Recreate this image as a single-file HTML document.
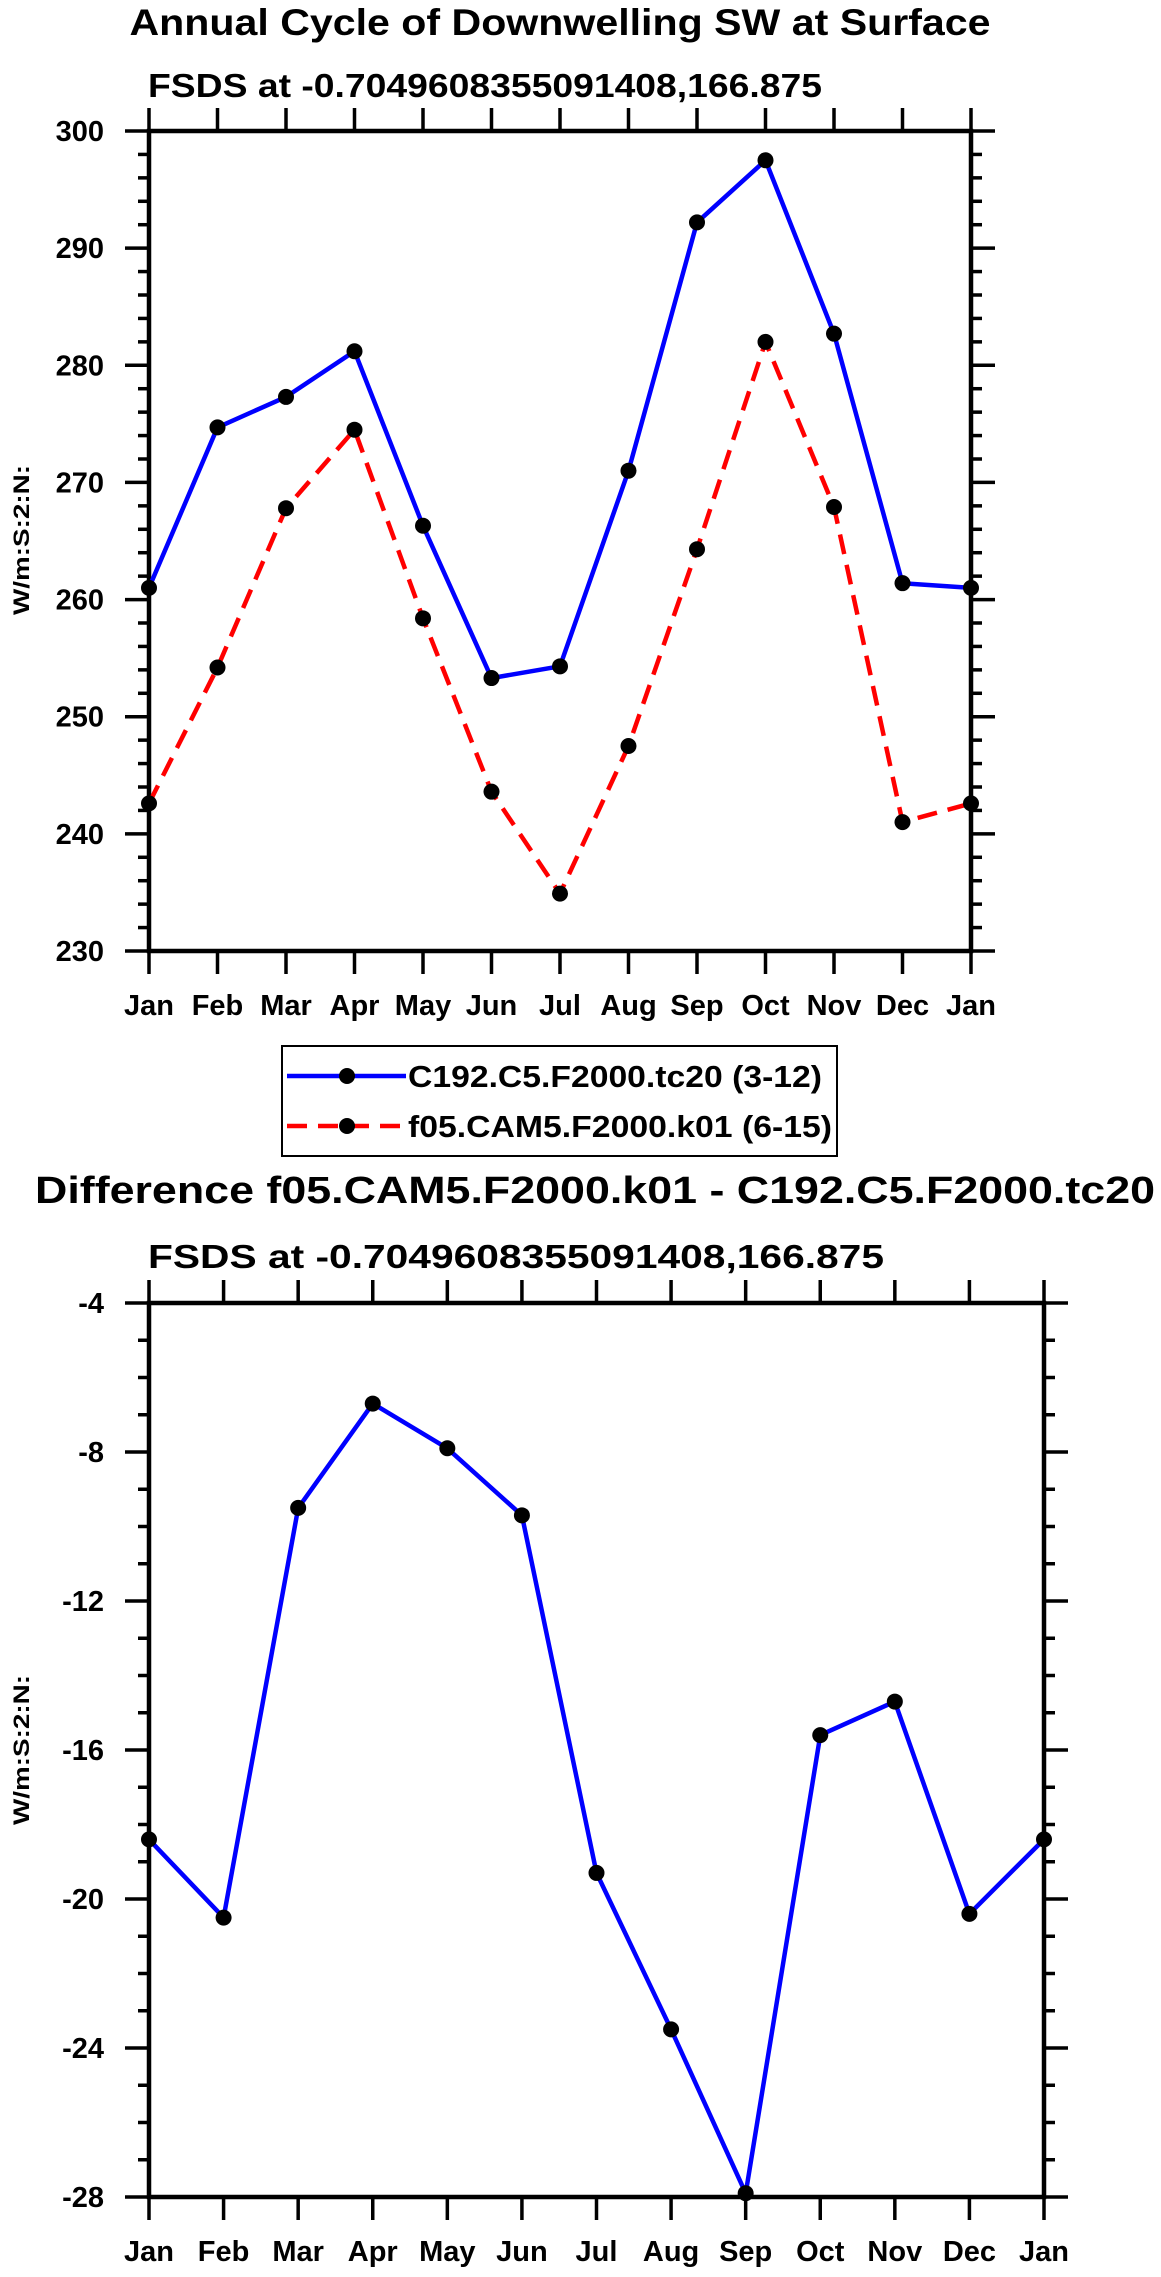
<!DOCTYPE html>
<html><head><meta charset="utf-8"><style>
html,body{margin:0;padding:0;background:#fff}
svg{display:block}
text{font-family:"Liberation Sans",Arial,sans-serif;font-weight:bold;fill:#000}
</style></head><body>
<svg id="chart" width="1161" height="2277" viewBox="0 0 1161 2277" xmlns="http://www.w3.org/2000/svg">
<text x="560" y="35" text-anchor="middle" font-size="37" textLength="861" lengthAdjust="spacingAndGlyphs">Annual Cycle of Downwelling SW at Surface</text>
<text x="148" y="97" font-size="33" textLength="674" lengthAdjust="spacingAndGlyphs">FSDS at -0.7049608355091408,166.875</text>
<text x="0" y="0" font-size="22" text-anchor="middle" textLength="150" lengthAdjust="spacingAndGlyphs" transform="translate(29,540) rotate(-90)">W/m:S:2:N:</text>
<g id="legend">
<rect x="282" y="1046" width="555" height="110" fill="none" stroke="#000" stroke-width="2"/>
<line x1="287" y1="1076" x2="406" y2="1076" stroke="#0000ff" stroke-width="4.5"/>
<circle cx="347" cy="1076" r="8" fill="#000"/>
<text x="408" y="1087" font-size="31" textLength="414" lengthAdjust="spacingAndGlyphs">C192.C5.F2000.tc20 (3-12)</text>
<line x1="287" y1="1126" x2="406" y2="1126" stroke="#ff0000" stroke-width="4.5" stroke-dasharray="20,11"/>
<circle cx="347" cy="1126" r="8" fill="#000"/>
<text x="408" y="1137" font-size="31" textLength="424" lengthAdjust="spacingAndGlyphs">f05.CAM5.F2000.k01 (6-15)</text>
</g>
<text x="595" y="1203" text-anchor="middle" font-size="38" textLength="1120" lengthAdjust="spacingAndGlyphs">Difference f05.CAM5.F2000.k01 - C192.C5.F2000.tc20</text>
<text x="148" y="1268" font-size="33" textLength="736" lengthAdjust="spacingAndGlyphs">FSDS at -0.7049608355091408,166.875</text>
<text x="0" y="0" font-size="22" text-anchor="middle" textLength="150" lengthAdjust="spacingAndGlyphs" transform="translate(29,1750) rotate(-90)">W/m:S:2:N:</text>
</svg>
<script>
const months = ["Jan","Feb","Mar","Apr","May","Jun","Jul","Aug","Sep","Oct","Nov","Dec","Jan"];
const seriesC192 = [261.0,274.7,277.3,281.2,266.3,253.3,254.3,271.0,292.2,297.5,282.7,261.4,261.0];
const seriesF05 = [242.6,254.2,267.8,274.5,258.4,243.6,234.9,247.5,264.3,282.0,267.9,241.0,242.6];
const seriesDiff = [-18.4,-20.5,-9.5,-6.7,-7.9,-9.7,-19.3,-23.5,-27.9,-15.6,-14.7,-20.4,-18.4];
const topTicks = [230,240,250,260,270,280,290,300];
const diffTicks = [-28,-24,-20,-16,-12,-8,-4];

const NS = "http://www.w3.org/2000/svg";
const svg = document.getElementById('chart');
function mk(tag, attrs, parent){
  const e = document.createElementNS(NS, tag);
  for (const k in attrs) e.setAttribute(k, attrs[k]);
  (parent||svg).appendChild(e);
  return e;
}
function panel(p){
  const g = mk('g', {});
  
  
  const n = months.length;
  const xs = i => p.l + (p.r - p.l) * i / (n - 1);
  const ys = v => p.b - (p.b - p.t) * (v - p.ymin) / (p.ymax - p.ymin);
  for (let v = p.ymin; v <= p.ymax + 1e-9; v += p.minor) {
    const y = ys(v);
    const isMajor = p.ticks.some(t => Math.abs(t - v) < 1e-6);
    const len = isMajor ? 24 : 11;
    const tl = mk('line', {x1: p.l - len, y1: y, x2: p.l, y2: y, stroke: '#000', 'stroke-width': 3.5}, g);
    
    
    const tr = mk('line', {x1: p.r, y1: y, x2: p.r + len, y2: y, stroke: '#000', 'stroke-width': 3.5}, g);
    
    
  }
  p.ticks.forEach(t => {
    const tx = mk('text', {x: p.l - 45, y: ys(t) + 10, 'text-anchor': 'end', 'font-size': 29}, g);
    tx.textContent = String(t);
    
    
  });
  months.forEach((m, i) => {
    const x = xs(i);
    const tb = mk('line', {x1: x, y1: p.b, x2: x, y2: p.b + 23, stroke: '#000', 'stroke-width': 3.5}, g);
    
    
    const tt = mk('line', {x1: x, y1: p.t - 23, x2: x, y2: p.t, stroke: '#000', 'stroke-width': 3.5}, g);
    
    
    const lb = mk('text', {x: x, y: p.b + 64, 'text-anchor': 'middle', 'font-size': 29}, g);
    lb.textContent = m;
    
    
  });
  const fr = mk('rect', {x: p.l, y: p.t, width: p.r - p.l, height: p.b - p.t, fill: 'none', stroke: '#000', 'stroke-width': 4.5}, g);
  
  
  p.series.forEach(s => {
    const pts = s.data.map((v, i) => xs(i).toFixed(1) + ',' + ys(v).toFixed(1)).join(' ');
    const attrs = {points: pts, fill: 'none', stroke: s.color, 'stroke-width': 4.5, 'stroke-linejoin': 'round'};
    if (s.dash) attrs['stroke-dasharray'] = s.dash;
    const pl = mk('polyline', attrs, g);
    
    
    s.data.forEach((v, i) => {
      const c = mk('circle', {cx: xs(i), cy: ys(v), r: 8, fill: '#000'}, g);
      
      
    });
  });
}
panel({name:'top-plot', l:149, r:971, t:131, b:951, ymin:230, ymax:300, minor:2, ticks:topTicks,
  series:[{name:'c192', data:seriesC192, color:'#0000ff'},{name:'f05', data:seriesF05, color:'#ff0000', dash:'20,11'}]});
panel({name:'diff-plot', l:149, r:1044, t:1303, b:2197, ymin:-28, ymax:-4, minor:1, ticks:diffTicks,
  series:[{name:'diff', data:seriesDiff, color:'#0000ff'}]});
</script>
</body></html>
